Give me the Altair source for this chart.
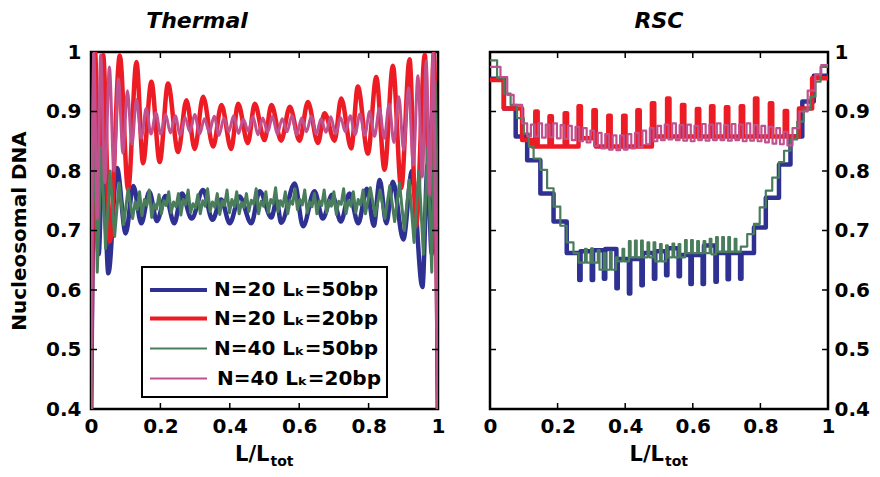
import altair as alt
import pandas as pd

FONT = "DejaVu Sans"

SERIES = ["N=20 Lₖ=50bp", "N=20 Lₖ=20bp", "N=40 Lₖ=50bp", "N=40 Lₖ=20bp"]
COLORS = ["#2e3192", "#ed1c24", "#4a7d5c", "#c1508e"]
W_THERMAL = [4.5, 4.5, 3.0, 3.0]
INTERP_THERMAL = ["monotone", "monotone", "linear", "monotone"]
W_RSC = [4.5, 4.5, 2.2, 2.2]
W_LEGEND = [4.0, 4.0, 2.2, 2.2]

X_TICKS = [0, 0.2, 0.4, 0.6, 0.8, 1]
Y_TICKS = [0.4, 0.5, 0.6, 0.7, 0.8, 0.9, 1]
X_INNER = [0.2, 0.4, 0.6, 0.8]
Y_INNER = [0.5, 0.6, 0.7, 0.8, 0.9]

# ---- Thermal panel (x = L/Ltot, y = nucleosomal DNA) ----
th_blue = [(0.000, 0.38), (0.010, 0.80), (0.022, 0.66), (0.034, 0.84), (0.050, 0.628), (0.075, 0.805),
           (0.100, 0.695), (0.122, 0.775), (0.145, 0.712), (0.168, 0.765), (0.190, 0.716), (0.215, 0.758),
           (0.240, 0.712), (0.262, 0.762), (0.290, 0.720), (0.323, 0.768), (0.350, 0.718), (0.375, 0.752),
           (0.400, 0.712), (0.428, 0.757), (0.462, 0.712), (0.486, 0.766), (0.520, 0.722), (0.535, 0.750),
           (0.548, 0.713), (0.587, 0.779), (0.611, 0.707), (0.644, 0.766), (0.668, 0.720), (0.695, 0.760),
           (0.720, 0.715), (0.745, 0.762), (0.770, 0.712), (0.795, 0.770), (0.815, 0.708), (0.832, 0.785),
           (0.851, 0.712), (0.870, 0.782), (0.900, 0.685), (0.925, 0.800), (0.955, 0.605), (0.970, 0.810),
           (0.982, 0.660), (0.992, 0.800), (1.000, 0.38)]
th_red = [(0.000, 0.38), (0.012, 0.998), (0.022, 0.759), (0.035, 0.995), (0.054, 0.682), (0.083, 0.994),
          (0.107, 0.768), (0.131, 0.983), (0.150, 0.813), (0.174, 0.950), (0.198, 0.815), (0.222, 0.947),
          (0.251, 0.832), (0.275, 0.919), (0.299, 0.837), (0.323, 0.925), (0.352, 0.841), (0.376, 0.911),
          (0.404, 0.837), (0.424, 0.913), (0.452, 0.847), (0.472, 0.913), (0.500, 0.852), (0.520, 0.911),
          (0.548, 0.851), (0.573, 0.908), (0.601, 0.851), (0.625, 0.916), (0.654, 0.847), (0.673, 0.897),
          (0.702, 0.851), (0.721, 0.922), (0.750, 0.838), (0.769, 0.942), (0.798, 0.829), (0.822, 0.958),
          (0.846, 0.802), (0.870, 0.977), (0.894, 0.771), (0.918, 0.988), (0.937, 0.708), (0.962, 0.995),
          (0.975, 0.759), (0.988, 0.998), (1.000, 0.38)]
th_green = [(0.000, 0.38), (0.008, 0.95), (0.018, 0.63), (0.030, 0.84), (0.042, 0.67), (0.055, 0.80),
            (0.068, 0.69), (0.081, 0.78), (0.094, 0.71), (0.107, 0.77), (0.120, 0.72), (0.127, 0.748),
            (0.133, 0.735), (0.140, 0.765), (0.147, 0.725), (0.154, 0.752), (0.161, 0.742), (0.168, 0.768),
            (0.175, 0.722), (0.182, 0.745), (0.189, 0.736), (0.196, 0.760), (0.203, 0.728), (0.210, 0.750),
            (0.217, 0.742), (0.224, 0.765), (0.231, 0.730), (0.238, 0.748), (0.245, 0.740), (0.252, 0.762),
            (0.259, 0.726), (0.266, 0.752), (0.273, 0.744), (0.280, 0.768), (0.287, 0.730), (0.294, 0.745),
            (0.301, 0.738), (0.308, 0.760), (0.315, 0.728), (0.322, 0.750), (0.329, 0.741), (0.336, 0.770),
            (0.343, 0.732), (0.350, 0.748), (0.357, 0.739), (0.364, 0.762), (0.371, 0.727), (0.378, 0.750),
            (0.385, 0.742), (0.392, 0.768), (0.399, 0.730), (0.406, 0.752), (0.413, 0.740), (0.420, 0.765),
            (0.427, 0.728), (0.434, 0.747), (0.441, 0.739), (0.448, 0.762), (0.455, 0.732), (0.462, 0.751),
            (0.469, 0.744), (0.476, 0.770), (0.483, 0.728), (0.490, 0.749), (0.497, 0.741), (0.504, 0.765),
            (0.511, 0.730), (0.518, 0.752), (0.525, 0.745), (0.532, 0.772), (0.539, 0.732), (0.546, 0.750),
            (0.553, 0.741), (0.560, 0.765), (0.567, 0.728), (0.574, 0.751), (0.581, 0.744), (0.588, 0.770),
            (0.595, 0.735), (0.602, 0.752), (0.609, 0.743), (0.616, 0.768), (0.623, 0.730), (0.630, 0.748),
            (0.637, 0.740), (0.644, 0.762), (0.651, 0.728), (0.658, 0.750), (0.665, 0.742), (0.672, 0.768),
            (0.679, 0.730), (0.686, 0.751), (0.693, 0.741), (0.700, 0.765), (0.707, 0.727), (0.714, 0.749),
            (0.721, 0.744), (0.728, 0.770), (0.735, 0.728), (0.742, 0.750), (0.749, 0.741), (0.756, 0.765),
            (0.763, 0.730), (0.770, 0.752), (0.777, 0.743), (0.784, 0.768), (0.791, 0.728), (0.798, 0.750),
            (0.805, 0.772), (0.819, 0.725), (0.833, 0.768), (0.847, 0.720), (0.861, 0.775), (0.875, 0.715),
            (0.889, 0.780), (0.903, 0.700), (0.917, 0.785), (0.931, 0.680), (0.945, 0.800), (0.958, 0.660),
            (0.970, 0.840), (0.982, 0.630), (0.992, 0.950), (1.000, 0.38)]
th_pink = [(0.000, 0.38), (0.008, 0.998), (0.018, 0.72), (0.028, 0.995), (0.040, 0.78), (0.053, 0.975),
           (0.066, 0.80), (0.079, 0.955), (0.092, 0.83), (0.105, 0.935), (0.118, 0.845), (0.131, 0.920),
           (0.145, 0.855), (0.159, 0.905), (0.173, 0.862), (0.187, 0.898), (0.201, 0.862), (0.215, 0.895),
           (0.229, 0.864), (0.243, 0.893), (0.257, 0.860), (0.271, 0.890), (0.285, 0.866), (0.299, 0.895),
           (0.313, 0.862), (0.327, 0.888), (0.341, 0.865), (0.355, 0.892), (0.369, 0.860), (0.383, 0.889),
           (0.397, 0.866), (0.411, 0.893), (0.425, 0.863), (0.439, 0.887), (0.453, 0.867), (0.467, 0.891),
           (0.481, 0.861), (0.495, 0.889), (0.509, 0.865), (0.523, 0.892), (0.537, 0.862), (0.551, 0.888),
           (0.565, 0.866), (0.579, 0.893), (0.593, 0.861), (0.607, 0.889), (0.621, 0.866), (0.635, 0.892),
           (0.649, 0.862), (0.663, 0.888), (0.677, 0.865), (0.691, 0.891), (0.705, 0.862), (0.719, 0.890),
           (0.733, 0.866), (0.747, 0.893), (0.761, 0.861), (0.775, 0.896), (0.789, 0.860), (0.803, 0.900),
           (0.817, 0.858), (0.831, 0.905), (0.845, 0.855), (0.859, 0.912), (0.873, 0.848), (0.887, 0.925),
           (0.901, 0.835), (0.915, 0.940), (0.929, 0.810), (0.942, 0.960), (0.955, 0.790), (0.966, 0.985),
           (0.976, 0.760), (0.986, 0.998), (0.993, 0.720), (1.000, 0.38)]

# ---- RSC panel (step profiles; each point starts a new step) ----
rsc_blue = [(0.000, 0.955), (0.041, 0.905), (0.076, 0.858), (0.110, 0.818), (0.149, 0.762), (0.188, 0.715),
            (0.227, 0.662), (0.264, 0.617), (0.268, 0.665), (0.301, 0.617), (0.305, 0.667), (0.337, 0.619),
            (0.341, 0.669), (0.374, 0.603), (0.378, 0.652), (0.411, 0.594), (0.415, 0.652), (0.448, 0.608),
            (0.452, 0.662), (0.485, 0.619), (0.489, 0.665), (0.521, 0.625), (0.525, 0.670), (0.558, 0.623),
            (0.562, 0.659), (0.593, 0.610), (0.597, 0.659), (0.629, 0.610), (0.633, 0.675), (0.667, 0.614),
            (0.671, 0.662), (0.703, 0.618), (0.707, 0.662), (0.740, 0.619), (0.744, 0.662), (0.781, 0.705),
            (0.816, 0.755), (0.855, 0.811), (0.889, 0.858), (0.924, 0.917), (0.958, 0.960), (1.000, 0.960)]
rsc_red = [(0.000, 0.953), (0.041, 0.905), (0.095, 0.852), (0.125, 0.841), (0.134, 0.900), (0.141, 0.841),
           (0.176, 0.892), (0.183, 0.841), (0.221, 0.897), (0.228, 0.841), (0.262, 0.909), (0.269, 0.855),
           (0.306, 0.902), (0.313, 0.841), (0.350, 0.893), (0.357, 0.841), (0.394, 0.893), (0.401, 0.841),
           (0.436, 0.902), (0.443, 0.841), (0.479, 0.914), (0.486, 0.858), (0.524, 0.922), (0.531, 0.858),
           (0.568, 0.911), (0.575, 0.858), (0.612, 0.904), (0.619, 0.858), (0.654, 0.909), (0.661, 0.858),
           (0.698, 0.907), (0.705, 0.858), (0.742, 0.909), (0.749, 0.858), (0.784, 0.922), (0.791, 0.858),
           (0.828, 0.914), (0.835, 0.858), (0.872, 0.901), (0.879, 0.858), (0.914, 0.905), (0.953, 0.956),
           (1.000, 0.956)]
rsc_green = [(0.000, 0.986), (0.021, 0.957), (0.041, 0.930), (0.061, 0.911), (0.080, 0.889), (0.100, 0.863),
             (0.115, 0.841), (0.129, 0.821), (0.149, 0.802), (0.169, 0.771), (0.188, 0.740), (0.208, 0.708),
             (0.227, 0.680), (0.247, 0.662), (0.262, 0.646), (0.281, 0.669), (0.286, 0.646), (0.299, 0.670),
             (0.304, 0.646), (0.319, 0.667), (0.324, 0.634), (0.337, 0.662), (0.342, 0.634), (0.355, 0.664),
             (0.360, 0.634), (0.373, 0.655), (0.378, 0.648), (0.392, 0.669), (0.397, 0.648), (0.411, 0.682),
             (0.416, 0.655), (0.429, 0.683), (0.434, 0.655), (0.447, 0.683), (0.452, 0.655), (0.466, 0.680),
             (0.471, 0.655), (0.484, 0.680), (0.489, 0.648), (0.503, 0.677), (0.508, 0.648), (0.521, 0.675),
             (0.526, 0.655), (0.540, 0.678), (0.545, 0.655), (0.558, 0.677), (0.563, 0.655), (0.577, 0.684),
             (0.582, 0.662), (0.595, 0.684), (0.600, 0.662), (0.613, 0.682), (0.618, 0.662), (0.632, 0.682),
             (0.637, 0.662), (0.650, 0.686), (0.655, 0.660), (0.669, 0.689), (0.674, 0.664), (0.687, 0.689),
             (0.692, 0.664), (0.705, 0.689), (0.710, 0.664), (0.724, 0.686), (0.729, 0.664), (0.742, 0.673),
             (0.761, 0.694), (0.781, 0.711), (0.798, 0.739), (0.816, 0.767), (0.835, 0.789), (0.855, 0.815),
             (0.870, 0.834), (0.889, 0.853), (0.909, 0.883), (0.928, 0.903), (0.948, 0.925), (0.963, 0.950),
             (0.978, 0.975), (1.000, 0.975)]
rsc_pink = [(0.000, 0.975), (0.031, 0.958), (0.051, 0.928), (0.070, 0.911), (0.095, 0.880), (0.110, 0.858),
            (0.121, 0.878), (0.132, 0.858), (0.143, 0.880), (0.154, 0.856), (0.165, 0.878), (0.176, 0.857),
            (0.187, 0.880), (0.198, 0.855), (0.209, 0.877), (0.220, 0.854), (0.231, 0.876), (0.242, 0.852),
            (0.253, 0.874), (0.264, 0.850), (0.275, 0.872), (0.286, 0.848), (0.297, 0.868), (0.308, 0.842),
            (0.319, 0.864), (0.330, 0.838), (0.341, 0.862), (0.352, 0.836), (0.363, 0.860), (0.374, 0.835),
            (0.385, 0.860), (0.396, 0.836), (0.407, 0.862), (0.418, 0.838), (0.429, 0.864), (0.440, 0.840),
            (0.451, 0.868), (0.462, 0.845), (0.473, 0.872), (0.484, 0.850), (0.495, 0.876), (0.506, 0.852),
            (0.517, 0.878), (0.528, 0.853), (0.539, 0.880), (0.550, 0.852), (0.561, 0.877), (0.572, 0.851),
            (0.583, 0.878), (0.594, 0.850), (0.605, 0.876), (0.616, 0.852), (0.627, 0.879), (0.638, 0.851),
            (0.649, 0.878), (0.660, 0.852), (0.671, 0.880), (0.682, 0.852), (0.693, 0.877), (0.704, 0.851),
            (0.715, 0.879), (0.726, 0.852), (0.737, 0.878), (0.748, 0.850), (0.759, 0.880), (0.770, 0.851),
            (0.781, 0.877), (0.792, 0.850), (0.803, 0.876), (0.814, 0.848), (0.825, 0.874), (0.836, 0.846),
            (0.847, 0.872), (0.858, 0.845), (0.869, 0.866), (0.880, 0.843), (0.895, 0.872), (0.915, 0.900),
            (0.940, 0.935), (0.962, 0.962), (0.980, 0.978), (1.000, 0.978)]

THERMAL = [th_blue, th_red, th_green, th_pink]
RSC = [rsc_blue, rsc_red, rsc_green, rsc_pink]

W_L, W_R, H = 347, 338, 357
XS = alt.Scale(domain=[0, 1], nice=False, zero=False)
YS = alt.Scale(domain=[0.4, 1], nice=False, zero=False)

lab = dict(labelFont=FONT, labelFontSize=20, labelFontWeight="bold", labelColor="black",
           ticks=False, domain=False, grid=False, labelFlush=False, format="~g")
AX_X = alt.Axis(values=X_TICKS, title=None, labelPadding=7, **lab)
AX_YL = alt.Axis(values=Y_TICKS, title="Nucleosomal DNA", titleFont=FONT, titleFontSize=20,
                 titleFontWeight="bold", titleColor="black", titlePadding=16, labelPadding=10, **lab)
AX_YR = alt.Axis(values=Y_TICKS, title=None, orient="right", labelPadding=6, **lab)


def line_layers(series, widths, interps, ax_y):
    out = []
    for pts, col, w, ip in zip(series, COLORS, widths, interps):
        df = pd.DataFrame(pts, columns=["x", "y"])
        df["i"] = range(len(df))
        out.append(
            alt.Chart(df).mark_line(color=col, strokeWidth=w, interpolate=ip, clip=True,
                                    strokeJoin="round")
            .encode(x=alt.X("x:Q", scale=XS, axis=AX_X), y=alt.Y("y:Q", scale=YS, axis=ax_y),
                    order="i:Q"))
    return out


def tick_layers(w, ax_y):
    xt = pd.DataFrame({"x": X_INNER})
    yt = pd.DataFrame({"y": Y_INNER})
    r = dict(color="black", strokeWidth=1.5)
    ex = alt.X("x:Q", scale=XS, axis=AX_X)
    ey = alt.Y("y:Q", scale=YS, axis=ax_y)
    return [
        alt.Chart(xt).mark_rule(**r).encode(x=ex, y=alt.value(0), y2=alt.value(6)),
        alt.Chart(xt).mark_rule(**r).encode(x=ex, y=alt.value(H - 6), y2=alt.value(H)),
        alt.Chart(yt).mark_rule(**r).encode(y=ey, x=alt.value(0), x2=alt.value(6)),
        alt.Chart(yt).mark_rule(**r).encode(y=ey, x=alt.value(w - 6), x2=alt.value(w)),
    ]


def text_layer(t, x, y, size, align="center", baseline="middle", style="normal"):
    return alt.Chart(pd.DataFrame({"t": [t]})).mark_text(
        font=FONT, fontSize=size, fontWeight="bold", fontStyle=style, align=align, baseline=baseline,
        color="black").encode(text="t:N", x=alt.value(x), y=alt.value(y))


def xtitle_layers(w):
    return [text_layer("L/L", w / 2 + 5, H + 52, 21, align="right", baseline="alphabetic"),
            text_layer("tot", w / 2 + 6, H + 57, 14, align="left", baseline="alphabetic")]


def legend_layers():
    out = [alt.Chart(pd.DataFrame({"a": [0]})).mark_rect(fill="white", stroke="black", strokeWidth=2).encode(
        x=alt.value(51), x2=alt.value(296), y=alt.value(215), y2=alt.value(345))]
    rows = [238, 266.5, 296.5, 326.5]
    for k, (name, col, w, yy) in enumerate(zip(SERIES, COLORS, W_LEGEND, rows)):
        out.append(alt.Chart(pd.DataFrame({"a": [0]})).mark_rule(color=col, strokeWidth=w).encode(
            x=alt.value(59), x2=alt.value(116), y=alt.value(yy)))
        out.append(text_layer(name, 123 if k < 3 else 126, yy, 20, align="left"))
    return out


left = alt.layer(
    *line_layers(THERMAL, W_THERMAL, INTERP_THERMAL, AX_YL),
    *tick_layers(W_L, AX_YL),
    *legend_layers(),
    *xtitle_layers(W_L),
    text_layer("Thermal", 106, -31, 22, style="italic"),
).properties(width=W_L, height=H)

right = alt.layer(
    *line_layers(RSC, W_RSC, ["step-after"] * 4, AX_YR),
    *tick_layers(W_R, AX_YR),
    *xtitle_layers(W_R),
    text_layer("RSC", W_R / 2, -31, 22, style="italic"),
).properties(width=W_R, height=H)

chart = alt.hconcat(left, right, spacing=34).properties(padding=0).configure_view(
    stroke="black", strokeWidth=2.5)

chart.save("out.html", embed_options={"renderer": "svg", "actions": False})
